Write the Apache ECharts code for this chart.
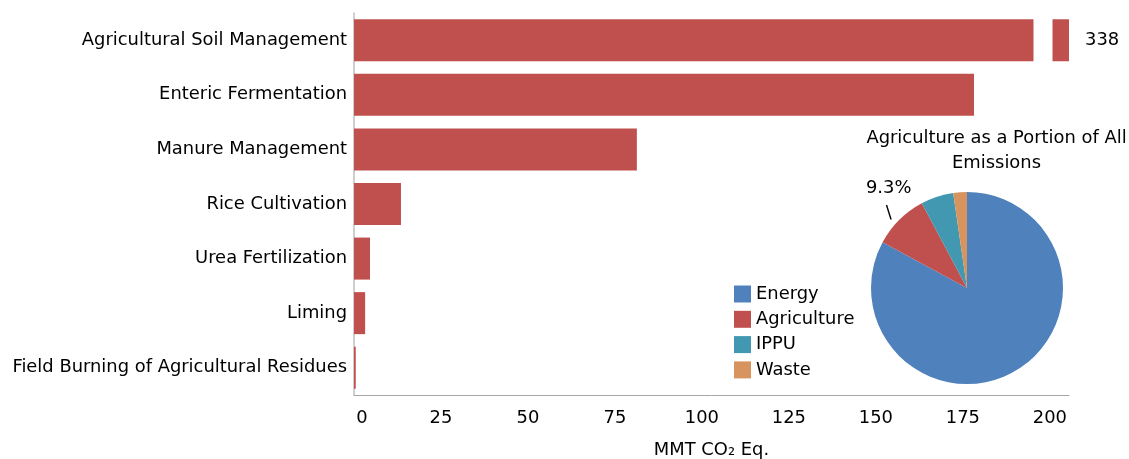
<!DOCTYPE html>
<html>
<head>
<meta charset="utf-8">
<script src="https://cdn.jsdelivr.net/npm/echarts@6/dist/echarts.min.js"></script>
<style>
html,body{margin:0;padding:0;background:#fff;}
#chart{width:1129px;height:459px;}
</style>
</head>
<body>
<div id="chart"></div>
<script>
// ---- data ----
const categories = [
  'Agricultural Soil Management',
  'Enteric Fermentation',
  'Manure Management',
  'Rice Cultivation',
  'Urea Fertilization',
  'Liming',
  'Field Burning of Agricultural Residues'
];
const emissions = [338, 178.2, 81.3, 13.5, 4.6, 3.2, 0.5];
const xTickLabels = [0, 25, 50, 75, 100, 125, 150, 175, 200];

const pieNames = ['Energy', 'Agriculture', 'IPPU', 'Waste'];
const pieShares = [82.9, 9.3, 5.5, 2.3];

// axis break (broken scale for the largest bar)
const breakStart = 195.1;
const breakEnd = 333.1;
const breakGap = 5.5;
const valueMax = 338;
const labelAxisMax = breakStart + breakGap + (valueMax - breakEnd);

const FONT = 'DejaVu Sans';
const FS = 17.9;

const chart = echarts.init(document.getElementById('chart'), null, {renderer: 'canvas'});

const option = {
  backgroundColor: '#fff',
  textStyle: {fontFamily: FONT},
  title: {
    text: 'Agriculture as a Portion of All\nEmissions',
    left: 991.5,
    top: 121,
    zlevel: 1,
    textAlign: 'center',
    textStyle: {fontFamily: FONT, fontSize: FS, fontWeight: 'normal', color: '#000', lineHeight: 25}
  },
  legend: {
    orient: 'vertical',
    left: 734,
    top: 285,
    padding: 0,
    itemWidth: 17,
    itemHeight: 17,
    itemGap: 7.3,
    icon: 'rect',
    data: pieNames,
    zlevel: 1,
    textStyle: {fontFamily: FONT, fontSize: FS, color: '#000'}
  },
  grid: {left: 354, right: 60, top: 13, bottom: 64, containLabel: false, outerBoundsMode: 'none'},
  xAxis: [
    {
      type: 'value',
      min: 0,
      max: valueMax,
      breaks: [{start: breakStart, end: breakEnd, gap: breakGap}],
      breakArea: {
        show: true,
        expandOnClick: false,
        zigzagAmplitude: 0,
        itemStyle: {color: '#fff', borderColor: '#fff', borderWidth: 0, opacity: 1}
      },
      axisLine: {show: false},
      axisTick: {show: false},
      axisLabel: {show: false},
      splitLine: {show: false}
    },
    {
      type: 'value',
      position: 'bottom',
      min: 0,
      max: labelAxisMax,
      interval: 25,
      axisLine: {show: true, lineStyle: {color: '#a6a6a6', width: 1}},
      axisTick: {show: false},
      splitLine: {show: false},
      axisLabel: {
        margin: 14,
        fontFamily: FONT,
        fontSize: FS,
        color: '#000',
        formatter: function (v) {
          if (xTickLabels.indexOf(v) < 0) return '';
          return v === 0 ? '{z|0}' : String(v);
        },
        rich: {z: {padding: [0, 0, 0, 16], fontFamily: FONT, fontSize: FS, color: '#000'}}
      },
      name: 'MMT CO\u2082 Eq.',
      nameLocation: 'middle',
      nameGap: 46,
      nameTextStyle: {fontFamily: FONT, fontSize: FS, color: '#000'}
    }
  ],
  yAxis: {
    type: 'category',
    inverse: true,
    data: categories,
    axisLine: {show: true, lineStyle: {color: '#bfbfbf', width: 1.5}},
    axisTick: {show: false},
    axisLabel: {margin: 7, fontFamily: FONT, fontSize: FS, color: '#000'}
  },
  series: [
    {
      type: 'bar',
      xAxisIndex: 0,
      yAxisIndex: 0,
      barCategoryGap: '23%',
      itemStyle: {color: '#C0504D'},
      data: emissions.map(function (v, i) {
        return i === 0
          ? {value: v, label: {show: true, position: 'right', distance: 16, formatter: '{c}', fontFamily: FONT, fontSize: FS, color: '#000'}}
          : v;
      }),
      z: 2
    },
    {
      type: 'pie',
      zlevel: 1,
      center: [967, 288],
      radius: 96,
      startAngle: 90,
      clockwise: true,
      color: ['#4F81BD', '#C0504D', '#4198B0', '#D8945E'],
      itemStyle: {borderWidth: 0},
      emphasis: {disabled: true},
      data: pieNames.map(function (n, i) {
        return {
          name: n,
          value: pieShares[i],
          label: i === 1
            ? {show: true, position: 'outside', formatter: '{a|' + pieShares[i].toFixed(1) + '%}\n{b|\\}',
               rich: {a: {fontFamily: FONT, fontSize: FS, color: '#000', lineHeight: 26, align: 'center'},
                      b: {fontFamily: FONT, fontSize: FS, color: '#000', lineHeight: 24, align: 'center'}}}
            : {show: false},
          labelLine: {show: false}
        };
      }),
      labelLine: {length: 8, length2: 0},
      labelLayout: function (p) {
        if (p.dataIndex === 1) return {align: 'center', verticalAlign: 'middle', dx: 0, dy: -14};
        return {};
      }
    }
  ]
};
chart.setOption(option);
</script>
</body>
</html>
